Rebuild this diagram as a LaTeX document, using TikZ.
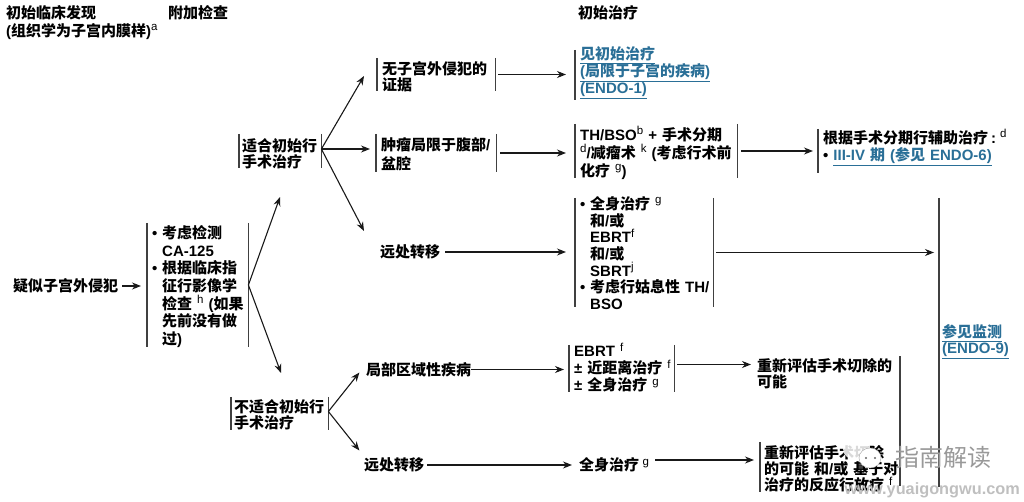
\documentclass[tikz,border=0pt]{standalone}
\usepackage{fontspec}
\setmainfont{Noto Sans CJK SC}
\newfontfamily\latfont{Liberation Sans}
\usetikzlibrary{arrows.meta}
\definecolor{linkblue}{HTML}{2A6F97}
\newcommand{\lat}[1]{{\latfont\bfseries #1}}
\newcommand{\supr}[1]{\raisebox{5.5pt}{\fontsize{11.5}{11.5}\selectfont\latfont\mdseries #1}}
\newcommand{\bu}{\makebox[10pt][l]{\lat{•}}}
\newcommand{\ind}{\hspace*{10pt}}
\newcommand{\lnk}[1]{\underline{#1}}
\tikzset{
	txt/.style={font=\fontsize{15}{#1}\selectfont\bfseries, align=left, inner sep=0pt, text=black},
	txt/.default=16,
	box/.style n args={3}{txt=#1, inner xsep=5pt, inner ysep=0pt, anchor=west, text height=#2, text depth=#3},
	leftbar/.style={append after command={(\tikzlastnode.north west) edge[bar] (\tikzlastnode.south west)}},
	rightbar/.style={append after command={(\tikzlastnode.north east) edge[bar] (\tikzlastnode.south east)}},
	bar/.style={line width=1.1pt, black!75},
	arr/.style={->, line width=1.1pt, black!90},
	link/.style={text=linkblue},
}
\begin{document}
\begin{tikzpicture}[x=1pt, y=-1pt, >={Stealth[length=9pt,width=7pt]}]
	\useasboundingbox (0,0) rectangle (1024,502);

	% Titres des colonnes
	\node[txt=18, anchor=north west] (headA) at (6,5) {初始临床发现\\\lat{(}组织学为子宫内膜样\lat{)}\supr{a}};
	\node[txt, anchor=north west] (headB) at (168,5) {附加检查};
	\node[txt, anchor=north west] (headC) at (578,5) {初始治疗};

	% Premiere colonne
	\node[txt, anchor=west] (susp) at (13,286) {疑似子宫外侵犯};
	\node[box={17.7}{15.5}{108.5}, leftbar, rightbar, text width=91pt, inner xsep=5pt] (exam) at (147,285)
		{\bu 考虑检测\\\ind\lat{CA-125}\\\bu 根据临床指\\\ind 征行影像学\\\mbox{\ind 检查 \supr{h} \lat{(}如果}\\\ind 先前没有做\\\ind 过\lat{)}};

	% Deux branches
	\node[box={16}{17.5}{16.5}, leftbar, rightbar, text width=76pt, inner xsep=3pt] (fit) at (239,151)
		{适合初始行\\手术治疗};
	\node[box={16}{15.5}{17.5}, leftbar, rightbar, text width=91pt, inner xsep=3pt] (unfit) at (231,413.5)
		{不适合初始行\\手术治疗};
	\coordinate (fitTip) at (280,197);
	\coordinate (unfitTip) at (281,373);

	% Branche operable
	\node[box={16}{16.5}{16.5}, leftbar, rightbar, text width=108pt, inner xsep=5pt] (noext) at (377,74.5)
		{无子宫外侵犯的\\证据};
	\node[box={19}{16.5}{21.5}, leftbar, rightbar, text width=110pt, inner xsep=5pt] (abdo) at (376,153)
		{肿瘤局限于腹部\lat{/}\\盆腔};
	\node[txt, anchor=west] (distA) at (380,252) {远处转移};
	\coordinate (noextTip) at (364,76);
	\coordinate (distTip) at (364,231);

	\node[box={17}{10}{40}, leftbar, text width=150pt, link] (seeOne) at (575,75)
		{\lnk{见初始治疗}\\\lnk{\lat{(}局限于子宫的疾病\lat{)}}\\\lnk{\lat{(ENDO-1)}}};
	\node[box={18}{16.5}{37.5}, leftbar, rightbar, text width=152pt] (thbso) at (575,151)
		{\lat{TH/BSO}\supr{b} \lat{+} 手术分期\\\mbox{\supr{d}\lat{/}减瘤术 \supr{k} \lat{(}考虑行术前}\\化疗 \supr{g}\lat{)}};
	\node[box={16.7}{11.5}{97.5}, leftbar, rightbar, text width=128pt] (syst) at (575,252.5)
		{\bu 全身治疗 \supr{g}\\\ind 和\lat{/}或\\\ind\lat{EBRT}\supr{f}\\\ind 和\lat{/}或\\\ind\lat{SBRT}\supr{j}\\\mbox{\bu 考虑行姑息性 \lat{TH/}}\\\ind\lat{BSO}};
	\node[box={17}{14.5}{29.5}, leftbar, text width=195pt] (adju) at (818,151)
		{根据手术分期行辅助治疗\hspace{3pt}\lat{:}\hspace{4pt}\supr{d}\\\lat{•} \textcolor{linkblue}{\lnk{\lat{III-IV} 期 \lat{(}参见 \lat{ENDO-6)}}}};

	% Branche non operable
	\node[txt, anchor=west] (local) at (366,369.5) {局部区域性疾病};
	\node[txt, anchor=west] (distB) at (364,465) {远处转移};
	\node[box={17}{11.5}{35.5}, leftbar, rightbar, text width=95pt] (ebrt) at (569,368.5)
		{\lat{EBRT} \supr{f}\\\mbox{\lat{±} 近距离治疗 \supr{f}}\\\lat{±} 全身治疗 \supr{g}};
	\node[txt, anchor=west] (sysB) at (579,465) {全身治疗 \supr{g}};
	\node[txt, anchor=west] (reevA) at (757,374) {重新评估手术切除的\\可能};
	\node[box={16}{16.5}{33.5}, leftbar, text width=150pt, inner xsep=4pt] (reevB) at (760,467)
		{重新评估手术切除\\的可能 和\lat{/}或 基于对\\治疗的反应行放疗 \supr{f}};

	% Barres verticales et renvoi final
	\coordinate (barATop) at (900,356);
	\coordinate (barABot) at (900,486);
	\coordinate (survTop) at (939,198);
	\coordinate (survBot) at (939,487);
	\draw[bar] (barATop) -- (barABot);
	\draw[bar] (survTop) -- (survBot);
	\node[txt, anchor=west, link] (surv) at (942,342) {\lnk{参见监测}\\\lnk{\lat{(ENDO-9)}}};

	% Fleches
	\draw[arr] ([xshift=4pt]susp.east) -- ([xshift=-6pt]susp.east -| exam.west);
	\draw[arr] (exam.east) -- (fitTip);
	\draw[arr] (exam.east) -- (unfitTip);
	\draw[arr] ([yshift=2pt]fit.east) -- (noextTip);
	\draw[arr] ([yshift=2pt]fit.east) -- ([xshift=-6pt,yshift=2pt]fit.east -| abdo.west);
	\draw[arr] ([yshift=2pt]fit.east) -- (distTip);
	\draw[arr] ([xshift=3pt]noext.east) -- ([xshift=-9pt]noext.east -| seeOne.west);
	\draw[arr] ([xshift=4pt]abdo.east) -- ([xshift=-9pt]abdo.east -| thbso.west);
	\draw[arr] ([xshift=5pt]distA.east) -- ([xshift=-9pt]distA.east -| syst.west);
	\draw[arr] ([xshift=4pt]thbso.east) -- ([xshift=-5pt]thbso.east -| adju.west);
	\draw[arr] ([xshift=3pt]syst.east) -- ([xshift=-5pt]syst.east -| survTop);
	\draw[arr] ([yshift=2pt]unfit.east) -- ++(31,-39) coordinate (localTip);
	\draw[arr] ([yshift=2pt]unfit.east) -- ++(31,39) coordinate (distBTip);
	\draw[arr] (local.east) -- ([xshift=-5pt]local.east -| ebrt.west);
	\draw[arr] ([xshift=3pt]distB.east) -- ([xshift=-7pt]distB.east -| sysB.west);
	\draw[arr] ([xshift=3pt,yshift=4pt]ebrt.east) -- ([xshift=-6pt,yshift=4pt]ebrt.east -| reevA.west);
	\draw[arr] ([xshift=6pt,yshift=5pt]sysB.east) -- ([xshift=-6pt,yshift=5pt]sysB.east -| reevB.west);

	% Filigrane
	\fill[white, opacity=.85] (856,449) ellipse (13pt and 11pt);
	\draw[black!35, fill=white] (870,458) ellipse (11pt and 10pt);
	\fill[black!60] (866,458) circle (1.2pt) (875,458) circle (1.2pt);
	\node[font=\fontsize{24}{24}\selectfont, text=black!40, inner sep=0pt, anchor=west] (markA) at (895,457) {指南解读};
	\node[font=\fontsize{16.3}{16}\selectfont\latfont\bfseries, text=black!25, inner sep=0pt, anchor=east] (markB) at (1020,490) {www.yuaigongwu.com};
\end{tikzpicture}
\end{document}
